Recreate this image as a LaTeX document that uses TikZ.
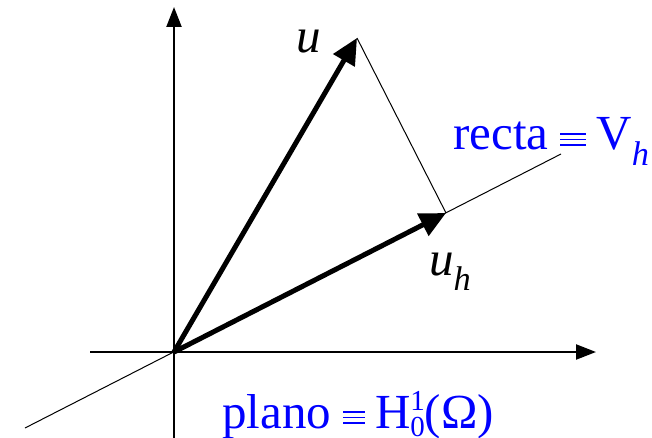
\documentclass[tikz,border=0pt]{standalone}
\usepackage{fontspec}
\setmainfont{Liberation Serif}
\usetikzlibrary{arrows.meta}

\tikzset{
  axis/.style={line width=2.2pt,-{Triangle[length=20pt,width=15pt]}},
  vec/.style={line width=5pt,-{Triangle[length=26pt,width=24pt]}},
  thinline/.style={line width=1pt},
  lab/.style={inner sep=0pt,anchor=base west,font=\fontsize{49}{54}\selectfont},
}
% thin three-bar sign, as in the reference
\newcommand{\eqv}[1]{\hspace{12pt}\raisebox{4pt}{\vbox{\hrule width #1 height 1.8pt
  \vskip 3.8pt\hrule width #1 height 1.8pt\vskip 3.8pt\hrule width #1 height 1.8pt}}\hspace{10pt}}
% small index set above or below the base line
\newcommand{\idx}[2]{\raisebox{#1}{\fontsize{29}{30}\selectfont #2}}

\begin{document}
\begin{tikzpicture}[x=1pt,y=-1pt]
  \useasboundingbox (0,0) rectangle (652,438);

  % origin and end points (pixel coordinates, y downwards)
  \coordinate (O) at (174,352);
  \coordinate (Uvec) at (357,38);
  \coordinate (Uhvec) at (446,213);
  \coordinate (Rlow) at (25,428);
  \coordinate (Rhigh) at (561,154);
  \coordinate (Xlow) at (90,352);
  \coordinate (Xhigh) at (596,352);
  \coordinate (Ylow) at (174,438);
  \coordinate (Yhigh) at (174,7);

  % axes of the plane
  \draw[axis] (Xlow) -- (Xhigh);
  \draw[axis] (Ylow) -- (Yhigh);

  % the line V_h through the origin
  \draw[thinline] (Rlow) -- (Rhigh);

  % projection of u onto V_h
  \draw[thinline] (Uvec) -- (Uhvec);

  % u and its projection u_h
  \draw[vec] (O) -- (Uvec);
  \draw[vec] (O) -- (Uhvec);

  % labels
  \node[lab] (uLab) at (296,53) {\textit{u}};
  \node[lab] (uhLab) at (429,275) {\textit{u}\textsubscript{\textit{h}}};
  \node[lab,text=blue] (rectaLab) at (453,150)
       {recta\eqv{26pt}V\textsubscript{\textit{h}}};
  \node[lab,text=blue] (planoLab) at (222,428)
       {plano\eqv{22pt}H\rlap{\idx{18pt}{1}}\idx{-8pt}{0}(Ω)};

\end{tikzpicture}
\end{document}
